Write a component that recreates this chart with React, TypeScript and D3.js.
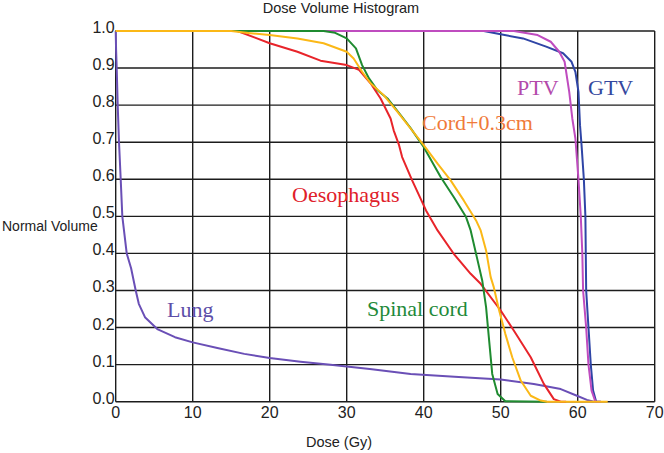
import React from "react";
import * as d3 from "d3";

const xTicks = [0, 10, 20, 30, 40, 50, 60, 70];
const yTicks = [0.0, 0.1, 0.2, 0.3, 0.4, 0.5, 0.6, 0.7, 0.8, 0.9, 1.0];

const lungDose = [0, 0.05, 0.13, 0.26, 0.43, 0.65, 0.86, 1.43, 2.0, 2.6, 3.0, 3.8, 5.4, 7.7, 10, 13.2, 16.7, 20, 24, 27.9, 33, 38.3, 44, 50, 54.3, 57.8, 59.9, 61.2, 62.1];
const lungVol = [1.0, 0.95, 0.9, 0.8, 0.7, 0.6, 0.5, 0.4, 0.36, 0.3, 0.264, 0.228, 0.196, 0.174, 0.16, 0.145, 0.129, 0.118, 0.108, 0.1, 0.088, 0.075, 0.067, 0.06, 0.048, 0.034, 0.016, 0.005, 0];

const gtvDose = [0, 47.8, 50, 52.9, 55.9, 58.1, 59.2, 59.7, 60.1, 60.3, 60.5, 60.8, 61.0, 61.05, 61.1, 61.4, 61.7, 62.0, 62.4, 63];
const gtvVol = [1, 1, 0.991, 0.98, 0.958, 0.94, 0.917, 0.89, 0.836, 0.746, 0.692, 0.6, 0.5, 0.4, 0.3, 0.2, 0.1, 0.03, 0, 0];

const ptvDose = [0, 51.7, 54.8, 56.5, 57.6, 58.3, 58.9, 59.3, 59.7, 60.1, 60.4, 60.6, 60.7, 61.1, 61.4, 61.8, 62.3, 63];
const ptvVol = [1, 1, 0.989, 0.971, 0.944, 0.917, 0.836, 0.764, 0.71, 0.6, 0.5, 0.4, 0.3, 0.2, 0.1, 0.03, 0, 0];

const oesDose = [0, 15.8, 20, 23.6, 26.6, 30, 31.6, 33.1, 34.4, 35.7, 36.1, 36.8, 37.2, 38.5, 40.3, 41.8, 43.9, 46.1, 47.4, 50, 51.7, 53.9, 55.6, 56.9, 57.8, 58.5];
const oesVol = [1, 1, 0.967, 0.944, 0.92, 0.908, 0.895, 0.859, 0.818, 0.764, 0.732, 0.692, 0.66, 0.597, 0.516, 0.462, 0.399, 0.345, 0.318, 0.246, 0.192, 0.12, 0.048, 0.007, 0, 0];

const cordDose = [0, 27, 28.5, 30, 31.2, 32, 32.9, 34, 35.3, 37, 38.3, 40, 42.2, 43.9, 45.5, 46.1, 46.9, 47.6, 48.1, 48.5, 48.9, 49.6, 50.6, 56];
const cordVol = [1, 1, 0.995, 0.98, 0.953, 0.908, 0.872, 0.84, 0.818, 0.773, 0.738, 0.687, 0.606, 0.552, 0.498, 0.462, 0.39, 0.327, 0.255, 0.165, 0.075, 0.021, 0.001, 0];

const prvDose = [0, 15, 17.5, 20, 23.6, 27, 30, 30.9, 32, 33.1, 34.8, 36.6, 38.3, 40, 41.8, 43.5, 45.2, 46.8, 47.4, 48.1, 48.7, 49.1, 49.8, 50.6, 51.5, 52.6, 53.9, 55.2, 56, 63.9];
const prvVol = [1, 1, 0.994, 0.989, 0.98, 0.967, 0.944, 0.926, 0.89, 0.859, 0.827, 0.782, 0.737, 0.692, 0.642, 0.597, 0.543, 0.489, 0.462, 0.408, 0.336, 0.309, 0.246, 0.183, 0.12, 0.057, 0.016, 0.003, 0, 0];

const W = 664;
const H = 453;

export default function App() {
  const x = d3.scaleLinear().domain([0, 70]).range([115.7, 654.7]);
  const y = d3.scaleLinear().domain([0, 1]).range([401.7, 31]);
  const line = d3
    .line<[number, number]>()
    .x((d) => x(d[0]))
    .y((d) => y(d[1]));
  const mk = (ds: number[], vs: number[]) => line(ds.map((d, i) => [d, vs[i]] as [number, number])) || "";

  // bottom-to-top drawing order
  const series = [
    { d: mk(lungDose, lungVol), c: "#6a4fb6" },
    { d: mk(gtvDose, gtvVol), c: "#2f45a6" },
    { d: mk(ptvDose, ptvVol), c: "#bf4cbf" },
    { d: mk(oesDose, oesVol), c: "#e8242a" },
    { d: mk(cordDose, cordVol), c: "#1f8b30" },
    { d: mk(prvDose, prvVol), c: "#fbb817" },
  ];

  const grid = "#1c1c1c";
  const tickFont = "'Liberation Sans Narrow', 'Arial Narrow', sans-serif";
  const sans = "'Liberation Sans', Arial, sans-serif";
  const serif = "'Liberation Serif', 'Times New Roman', serif";

  return (
    <svg width={W} height={H} style={{ position: "absolute", left: 0, top: 0, background: "#fff" }}>
      <rect x={0} y={0} width={W} height={H} fill="#fff" />
      <text x={341} y={13} textAnchor="middle" fontFamily={sans} fontSize={14.5} fill="#222">
        Dose Volume Histogram
      </text>
      {xTicks.map((t) => (
        <line key={"gx" + t} x1={x(t)} x2={x(t)} y1={y(0)} y2={y(1)} stroke={grid} strokeWidth={1.4} />
      ))}
      {yTicks.map((t) => (
        <line key={"gy" + t} x1={x(0)} x2={x(70)} y1={y(t)} y2={y(t)} stroke={grid} strokeWidth={1.4} />
      ))}
      {yTicks.map((t) => (
        <text key={"ty" + t} x={x(0) - 1} y={y(t) + 2} textAnchor="end" fontFamily={tickFont} fontSize={16} fill="#222">
          {d3.format(".1f")(t)}
        </text>
      ))}
      {xTicks.map((t) => (
        <text key={"tx" + t} x={x(t)} y={418} textAnchor="middle" fontFamily={tickFont} fontSize={16} fill="#222">
          {t}
        </text>
      ))}
      <text x={2} y={231} fontFamily={sans} fontSize={14} fill="#222">
        Normal Volume
      </text>
      <text x={339} y={447} textAnchor="middle" fontFamily={sans} fontSize={14.5} fill="#222">
        Dose (Gy)
      </text>
      {series.map((s, i) => (
        <path key={i} d={s.d} fill="none" stroke={s.c} strokeWidth={2} strokeLinejoin="round" />
      ))}
      <text x={517} y={95} fontFamily={serif} fontSize={22} fill="#b34aab">PTV</text>
      <text x={588} y={95} fontFamily={serif} fontSize={22} fill="#34479e">GTV</text>
      <text x={422} y={130} fontFamily={serif} fontSize={22} fill="#f07a3a">Cord+0.3cm</text>
      <text x={292} y={202} fontFamily={serif} fontSize={22} fill="#e0202a">Oesophagus</text>
      <text x={167} y={317} fontFamily={serif} fontSize={22} fill="#5c4ea8">Lung</text>
      <text x={367} y={316} fontFamily={serif} fontSize={22} fill="#1f8a3a">Spinal cord</text>
    </svg>
  );
}
